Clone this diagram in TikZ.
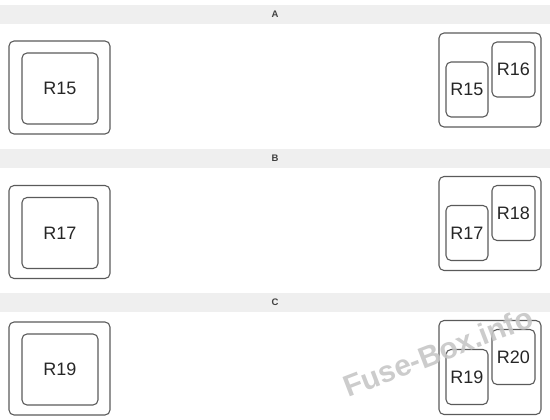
\documentclass[tikz,border=0pt]{standalone}
\usepackage{fontspec}
\setmainfont{Liberation Sans}
\usetikzlibrary{positioning}
\definecolor{boxline}{HTML}{5A5A5A}
\definecolor{barfill}{HTML}{EFEFEF}
\definecolor{markgray}{HTML}{C6C6C6}

\begin{document}
\begin{tikzpicture}[x=1pt,y=-1pt,
    bar/.style={fill=barfill, minimum width=550pt, minimum height=19pt, inner sep=0pt,
      font=\bfseries\fontsize{9.5}{10}\selectfont, text=black!75},
    holder/.style={draw=boxline, line width=1.1pt, rounded corners=5pt, inner sep=0pt},
    relay/.style={holder, font=\fontsize{18}{20}\selectfont, text=black!85}]
  \useasboundingbox (0,0) rectangle (550,420);

  % one strip per fuse box: name / bar y / left y / right y / relays
  \foreach \S/\bary/\ly/\ry/\a/\b/\c in {A/14.5/87.5/80/15/15/16,
      B/158.5/232/223.5/17/17/18, C/302.5/368.5/367.5/19/19/20}{
    \node[bar] (bar\S) at (275,\bary) {\S};

    % single relay holder on the left
    \node[holder, minimum width=101pt, minimum height=93pt] (left\S) at (59.5,\ly) {};
    \node[relay, minimum width=76pt, minimum height=71pt] (slot\S)
      at ([xshift=0.5pt,yshift=-1pt]left\S.center) {R\a};

    % double relay holder on the right
    \node[holder, minimum width=102pt, minimum height=94pt] (right\S) at (490,\ry) {};
    \node[relay, minimum width=42pt, minimum height=55pt] (low\S)
      at ([xshift=-23pt,yshift=-9.5pt]right\S.center) {R\b};
    \node[relay, minimum width=43pt, minimum height=55pt] (high\S)
      at ([xshift=23.5pt,yshift=10.5pt]right\S.center) {R\c};
  }

  % watermark
  \node[rotate=21, text=markgray, opacity=0.9,
    font=\bfseries\fontsize{30}{32}\selectfont] (mark) at (438,352) {Fuse-Box.info};
\end{tikzpicture}
\end{document}
